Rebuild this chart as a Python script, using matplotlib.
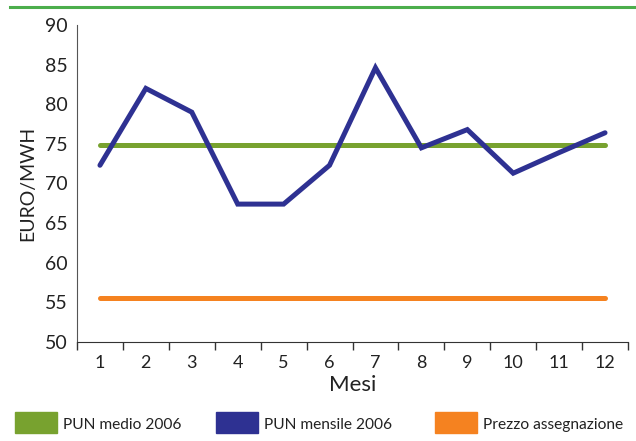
import matplotlib.pyplot as plt
from matplotlib.patches import Rectangle
from matplotlib.lines import Line2D
import numpy as np

# Data
mesi = [1, 2, 3, 4, 5, 6, 7, 8, 9, 10, 11, 12]
pun_mensile = [72.3, 82.0, 79.0, 67.4, 67.4, 72.3, 84.6, 74.5, 76.8, 71.3, 73.9, 76.4]
pun_medio = [74.9] * 12
prezzo_assegnazione = [55.6] * 12
legend_labels = ['PUN medio 2006', 'PUN mensile 2006', 'Prezzo assegnazione']

green = '#78a22f'
blue = '#2e3192'
orange = '#f58220'
colors = [green, blue, orange]

plt.rcParams['font.family'] = ['Lato', 'DejaVu Sans']

W, H = 636, 441
fig = plt.figure(figsize=(W / 100, H / 100), dpi=100)
ax = fig.add_axes([77 / W, 1 - 342 / H, (628 - 77) / W, (342 - 25) / H])

ax.plot(mesi, pun_medio, color=green, lw=3.6, solid_capstyle='round', zorder=2)
ax.plot(mesi, pun_mensile, color=blue, lw=3.6, solid_capstyle='round',
        solid_joinstyle='miter', zorder=3)
ax.plot(mesi, prezzo_assegnazione, color=orange, lw=3.6, solid_capstyle='round', zorder=2)

ax.set_xlim(0.5, 12.5)
ax.set_ylim(50, 90)
ax.set_yticks(np.arange(50, 91, 5))
ax.tick_params(axis='y', length=0, labelsize=14, pad=7, colors='#222222')

# ticks between categories, labels at centres
ax.set_xticks(np.arange(0.5, 12.6, 1))
ax.set_xticklabels([])
ax.set_xticks(mesi, minor=True)
ax.set_xticklabels([str(m) for m in mesi], minor=True)
ax.tick_params(axis='x', which='major', length=6, width=1, color='#333333')
ax.tick_params(axis='x', which='minor', length=0, labelsize=13, pad=9, colors='#222222')

ax.spines['top'].set_visible(False)
ax.spines['right'].set_visible(False)
ax.spines['left'].set_color('#555555')
ax.spines['bottom'].set_color('#333333')

ax.set_xlabel('Mesi', fontsize=16, labelpad=3, color='#222222')
ax.set_ylabel('EURO/MWH', fontsize=14, labelpad=6, color='#222222')

# green rule at top of the figure
fig.add_artist(Line2D([10 / W, 1.0], [1 - 7 / H, 1 - 7 / H], color='#4cae4c', lw=2.2))

# legend: colour boxes and labels along the bottom
box_x = [15, 216, 435]
for x0, c, lab in zip(box_x, colors, legend_labels):
    fig.add_artist(Rectangle((x0 / W, 1 - 433 / H), 42 / W, 21 / H,
                             transform=fig.transFigure, color=c))
    fig.text((x0 + 48) / W, 1 - 425 / H, lab, fontsize=11.2, color='#222222',
             va='center', ha='left')

fig.savefig('out.png', dpi=100)
